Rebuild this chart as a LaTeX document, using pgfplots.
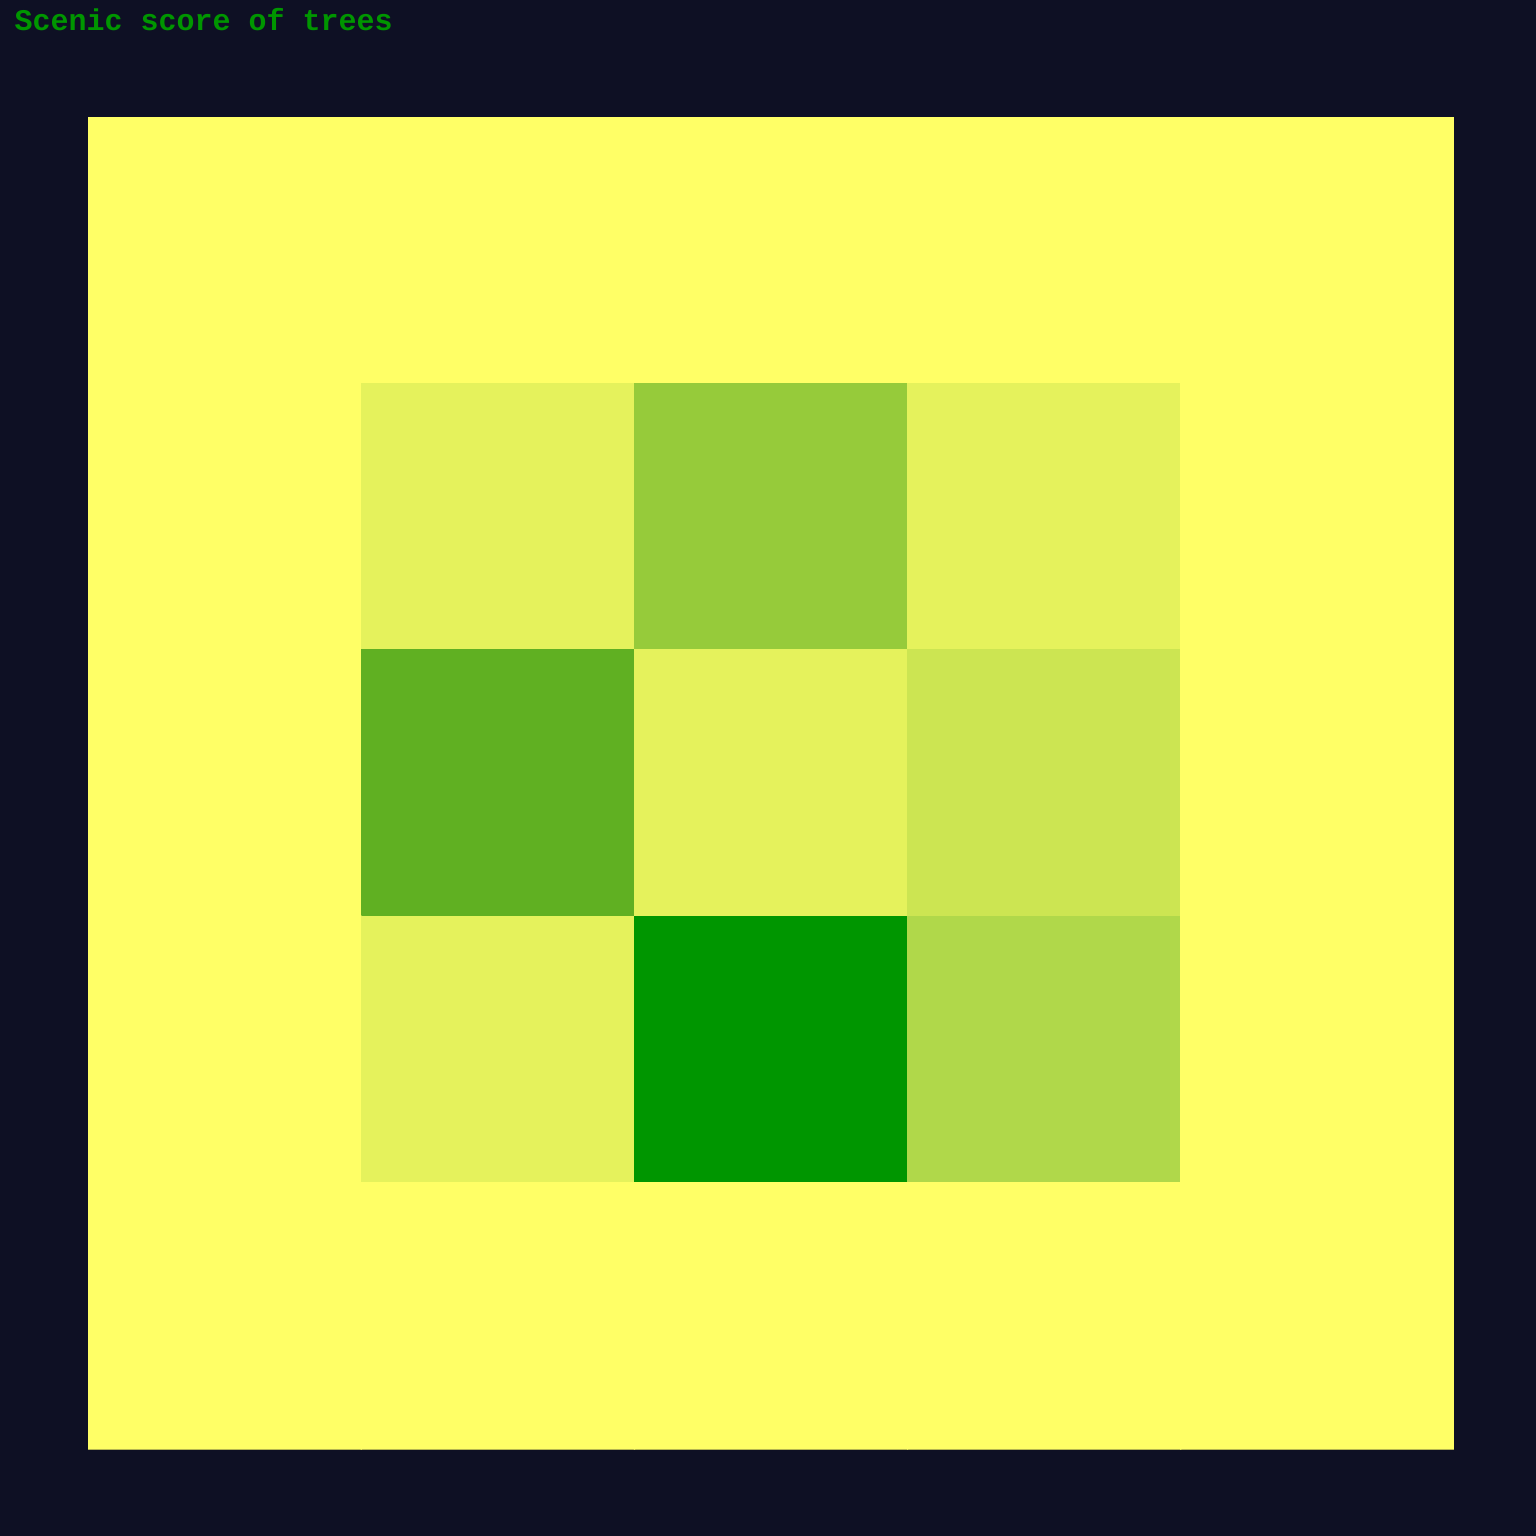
\documentclass[border=0pt]{standalone}
\usepackage{pgfplots}
\pgfplotsset{compat=1.18}
\usepackage{fontspec}
\newfontfamily\monofont{Liberation Mono}
\definecolor{bgnavy}{RGB}{14,16,36}
\definecolor{titlegreen}{RGB}{0,150,0}
\pgfplotsset{colormap={scenic}{rgb255(0)=(255,255,102) rgb255(1)=(229,242,92) rgb255(2)=(204,229,82) rgb255(3)=(176,216,74) rgb255(4)=(150,203,58) rgb255(6)=(96,176,34) rgb255(8)=(0,150,0)}}
\pgfplotstableread{
x y c
0 0 0
1 0 0
2 0 0
3 0 0
4 0 0
0 1 0
1 1 1
2 1 4
3 1 1
4 1 0
0 2 0
1 2 6
2 2 1
3 2 2
4 2 0
0 3 0
1 3 1
2 3 8
3 3 3
4 3 0
0 4 0
1 4 0
2 4 0
3 4 0
4 4 0
}\scores
\begin{document}
\begin{tikzpicture}
\fill[bgnavy] (0,0) rectangle (512pt,512pt);
\node[anchor=base west, inner sep=0pt, text=titlegreen, font=\monofont\bfseries\fontsize{10pt}{12pt}\selectfont] at (4.667pt,501.67pt) {Scenic score of trees};
\begin{axis}[
  at={(29.333pt,29pt)}, anchor=south west,
  width=455.33pt, height=444pt, scale only axis,
  hide axis,
  xmin=-0.5, xmax=4.5, ymin=-0.5, ymax=4.5,
  y dir=reverse,
  colormap name=scenic,
  point meta min=0, point meta max=8,
]
\addplot[matrix plot*, mesh/cols=5, point meta=explicit] table[x=x,y=y,meta=c] {\scores};
\end{axis}
\end{tikzpicture}
\end{document}
